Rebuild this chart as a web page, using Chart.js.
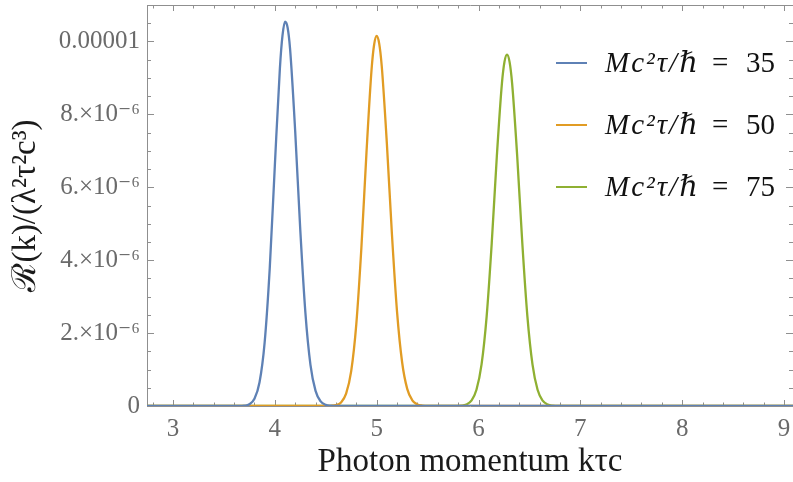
<!DOCTYPE html>
<html><head><meta charset="utf-8">
<script src="https://cdn.jsdelivr.net/npm/chart.js@4.4.1/dist/chart.umd.min.js"></script>
<style>html,body{margin:0;padding:0;background:#fff;}#wrap{width:793px;height:482px;position:relative;}</style>
</head><body><div id="wrap"><canvas id="c"></canvas></div>
<script>
// ---- data (y in units of 1e-6) ----
const legendLhs = 'Mc²τ/ℏ';
const legendValues = ['35', '50', '75'];
const seriesColors = ['#5E81B5', '#E19C24', '#8FB032'];

const xBlue = [2.745, 3.65, 3.70, 3.75, 3.80, 3.85, 3.90, 3.95, 4.00, 4.05, 4.075, 4.10, 4.125, 4.15, 4.20, 4.25, 4.30, 4.35, 4.40, 4.45, 4.50, 4.55, 4.60, 9.088];
const yBlue = [0, 0, 0.009, 0.048, 0.196, 0.65, 1.74, 3.77, 6.58, 9.27, 10.15, 10.54, 10.39, 9.79, 7.54, 4.83, 2.57, 1.13, 0.416, 0.127, 0.032, 0.007, 0, 0];

const xOrange = [2.745, 4.50, 4.55, 4.60, 4.65, 4.70, 4.75, 4.80, 4.85, 4.90, 4.95, 4.975, 5.00, 5.025, 5.05, 5.10, 5.15, 5.20, 5.25, 5.30, 5.35, 5.40, 5.45, 5.50, 9.088];
const yOrange = [0, 0, 0.005, 0.024, 0.099, 0.338, 0.955, 2.24, 4.34, 6.95, 9.23, 9.91, 10.15, 9.94, 9.32, 7.21, 4.71, 2.59, 1.20, 0.470, 0.155, 0.043, 0.010, 0, 0];

const xGreen = [2.745, 5.78, 5.83, 5.88, 5.93, 5.98, 6.03, 6.08, 6.13, 6.18, 6.23, 6.255, 6.28, 6.305, 6.33, 6.38, 6.43, 6.48, 6.53, 6.58, 6.63, 6.68, 6.73, 6.78, 9.088];
const yGreen = [0, 0, 0.0095, 0.041, 0.147, 0.446, 1.14, 2.46, 4.47, 6.85, 8.85, 9.44, 9.64, 9.44, 8.85, 6.85, 4.47, 2.46, 1.14, 0.446, 0.147, 0.041, 0.0095, 0, 0];

const xTicks = [3, 4, 5, 6, 7, 8, 9];
const yTicks = [0, 2, 4, 6, 8, 10];
const yTickLabels = ['0', '2.×10⁻⁶', '4.×10⁻⁶', '6.×10⁻⁶', '8.×10⁻⁶', '0.00001'];
const xTitle = 'Photon momentum kτc';
const yTitle = 'ℛ(k)/(λ²τ²c³)';

const FRAME = '#8f8f8f';
const TICKTXT = '#6a6a6a';
const SERIF = "'Liberation Serif', 'DejaVu Serif', serif";

const framePlugin = {
  id: 'frame',
  beforeDatasetsDraw(chart) {
    const {ctx, chartArea: a, scales: {x, y}} = chart;
    ctx.save();
    ctx.strokeStyle = FRAME;
    ctx.lineWidth = 1;
    ctx.beginPath();
    ctx.rect(Math.round(a.left) + 0.5, Math.round(a.top) + 0.5, Math.round(a.right - a.left), Math.round(a.bottom - a.top));
    ctx.stroke();
    ctx.beginPath();
    for (let i = 14; i <= 45; i++) {
      const v = i / 5;
      if (v < x.min || v > x.max) continue;
      const px = Math.round(x.getPixelForValue(v)) + 0.5;
      const L = (i % 5 === 0) ? 6 : 3.5;
      ctx.moveTo(px, a.bottom); ctx.lineTo(px, a.bottom - L);
      ctx.moveTo(px, a.top); ctx.lineTo(px, a.top + L);
    }
    for (let j = 0; j <= 22; j++) {
      const v = j / 2;
      if (v < y.min || v > y.max) continue;
      const py = Math.round(y.getPixelForValue(v)) + 0.5;
      const L = (j % 4 === 0) ? 7 : 4;
      ctx.moveTo(a.left, py); ctx.lineTo(a.left + L, py);
      ctx.moveTo(a.right, py); ctx.lineTo(a.right - L, py);
    }
    ctx.stroke();
    ctx.restore();
  }
};

const legendPlugin = {
  id: 'mlegend',
  afterDraw(chart) {
    const {ctx} = chart;
    ctx.save();
    chart.data.datasets.forEach((ds, i) => {
      const yy = 63 + i * 62;
      ctx.strokeStyle = ds.borderColor;
      ctx.lineWidth = 2;
      ctx.beginPath(); ctx.moveTo(556, yy); ctx.lineTo(587, yy); ctx.stroke();
      ctx.fillStyle = '#111';
      ctx.textBaseline = 'middle';
      ctx.font = "italic 29px " + SERIF;
      try { ctx.letterSpacing = '2px'; } catch (e) {}
      ctx.fillText(legendLhs, 605, yy + 1);
      try { ctx.letterSpacing = '0px'; } catch (e) {}
      ctx.font = "29px " + SERIF;
      ctx.fillText('=', 712, yy + 1);
      ctx.fillText(legendValues[i], 746, yy + 1);
    });
    ctx.restore();
  }
};

const mk = (xs, ys, i) => ({
  label: legendLhs + ' = ' + legendValues[i],
  data: xs.map((v, k) => ({x: v, y: ys[k]})),
  borderColor: seriesColors[i],
  borderWidth: 2.3,
  pointRadius: 0,
  fill: false,
  cubicInterpolationMode: 'monotone'
});

const noPad = s => { s.paddingTop = 0; s.paddingBottom = 0; s.paddingLeft = 0; s.paddingRight = 0; };

new Chart(document.getElementById('c'), {
  type: 'line',
  data: {datasets: [mk(xBlue, yBlue, 0), mk(xOrange, yOrange, 1), mk(xGreen, yGreen, 2)]},
  options: {
    responsive: true, maintainAspectRatio: false, animation: false,
    layout: {padding: {top: 5, right: 0, left: 0, bottom: 0}},
    plugins: {legend: {display: false}, tooltip: {enabled: false}},
    scales: {
      x: {
        type: 'linear', min: 2.745, max: 9.088,
        grid: {display: false, drawTicks: false}, border: {display: false},
        afterBuildTicks: s => { s.ticks = xTicks.map(v => ({value: v})); },
        afterFit: s => { s.height = 76; noPad(s); },
        ticks: {color: TICKTXT, font: {family: SERIF, size: 25}, padding: 8, maxRotation: 0, autoSkip: false},
        title: {display: true, text: xTitle, color: '#1a1a1a', font: {family: SERIF, size: 33}, padding: {top: 0, bottom: 0}}
      },
      y: {
        type: 'linear', min: 0, max: 11.0,
        grid: {display: false, drawTicks: false}, border: {display: false},
        afterBuildTicks: s => { s.ticks = yTicks.map(v => ({value: v})); },
        afterFit: s => { s.width = 147; noPad(s); },
        ticks: {color: TICKTXT, font: {family: SERIF, size: 25}, padding: 7, autoSkip: false,
          callback: (v) => { const k = yTicks.indexOf(v); return k >= 0 ? yTickLabels[k] : ''; }},
        title: {display: true, text: yTitle, color: '#1a1a1a', font: {family: SERIF, size: 33}, padding: {top: 7, bottom: 0}}
      }
    }
  },
  plugins: [framePlugin, legendPlugin]
});
</script>
</body></html>
